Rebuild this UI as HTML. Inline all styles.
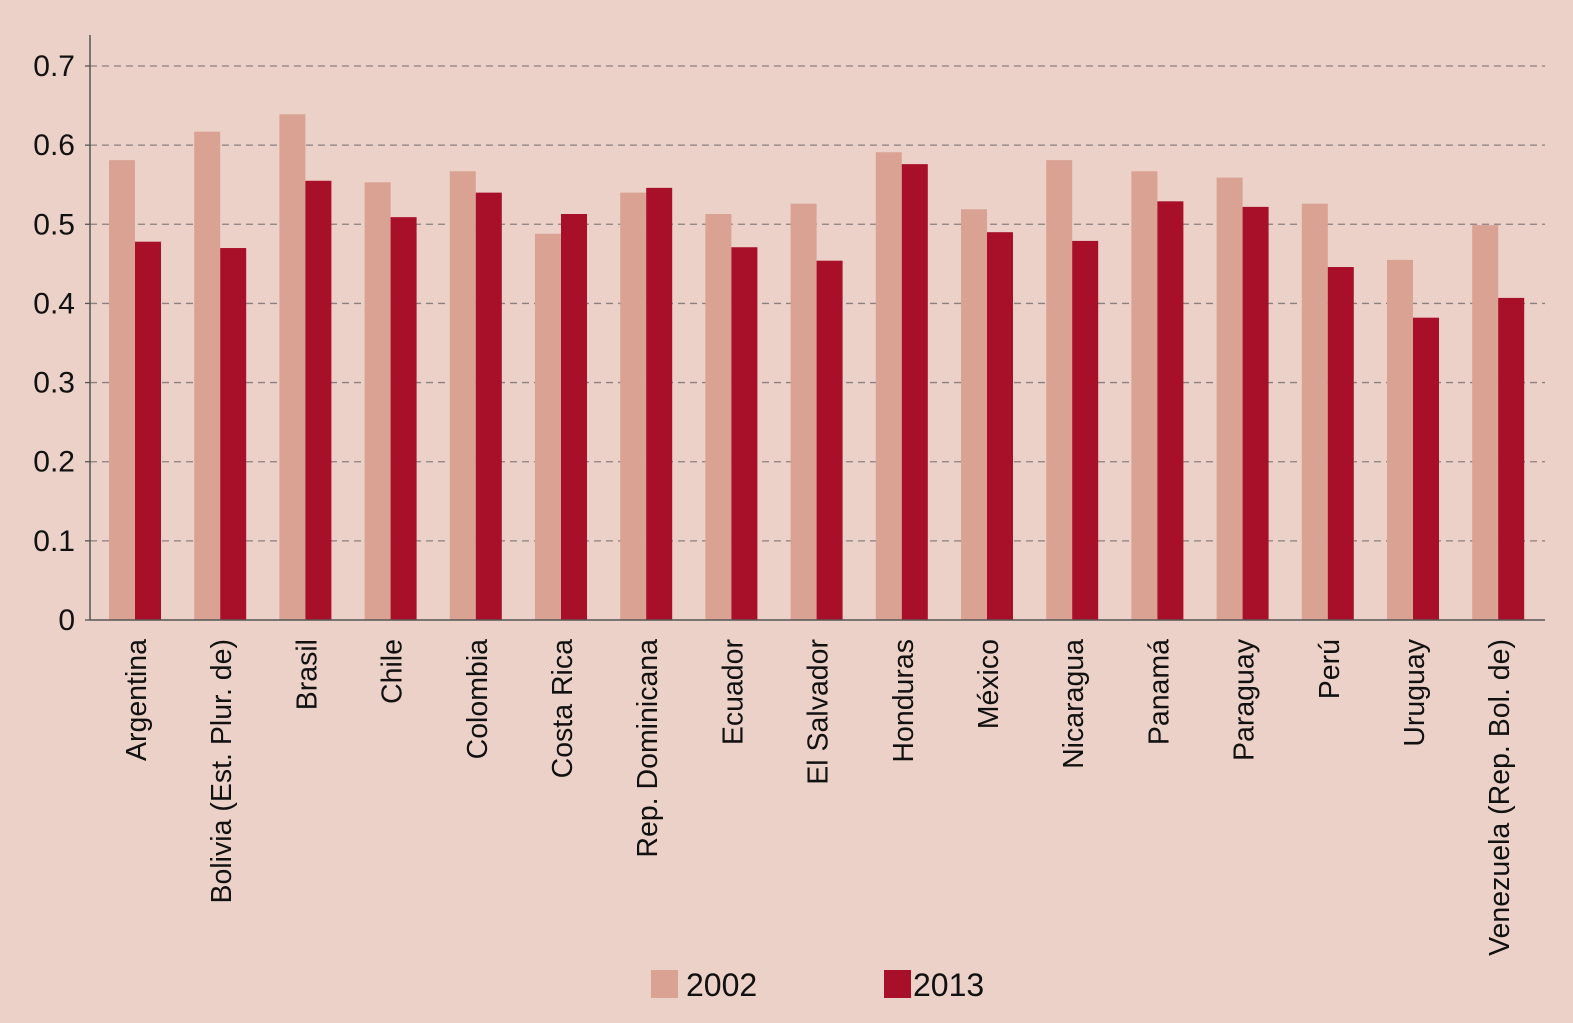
<!DOCTYPE html>
<html><head><meta charset="utf-8"><style>
html,body{margin:0;padding:0;background:#ecd1c8;}
svg{display:block;font-family:"Liberation Sans",Arial,sans-serif;}
</style></head><body>
<svg id="chart" width="1573" height="1023" viewBox="0 0 1573 1023">
<rect x="0" y="0" width="1573" height="1023" fill="#ecd1c8"/>
<g id="grid"></g><g id="bars"></g><g id="axes"></g><g id="labels"></g>
<g>
<rect x="651" y="970" width="27" height="28" fill="#d9a293"/>
<text x="686" y="996" font-size="32" fill="#111">2002</text>
<rect x="884" y="970" width="27" height="28" fill="#a8102a"/>
<text x="913" y="996" font-size="32" fill="#111">2013</text>
</g>
</svg>
<script>
const categories=["Argentina","Bolivia (Est. Plur. de)","Brasil","Chile","Colombia","Costa Rica","Rep. Dominicana","Ecuador","El Salvador","Honduras","México","Nicaragua","Panamá","Paraguay","Perú","Uruguay","Venezuela (Rep. Bol. de)"];
const values2002=[0.581,0.617,0.639,0.553,0.567,0.488,0.540,0.513,0.526,0.591,0.519,0.581,0.567,0.559,0.526,0.455,0.499];
const values2013=[0.478,0.470,0.555,0.509,0.540,0.513,0.546,0.471,0.454,0.576,0.490,0.479,0.529,0.522,0.446,0.382,0.407];
const yTicks=[0,0.1,0.2,0.3,0.4,0.5,0.6,0.7];
const yTickLabels=["0","0.1","0.2","0.3","0.4","0.5","0.6","0.7"];
const NS="http://www.w3.org/2000/svg";
const x0=90,x1=1545,y0=620,yTop=66;
function y(v){return y0-(y0-yTop)*v/0.7;}
const step=85.2,firstX=109,bw=26;
function gx(i){return firstX+i*step;}
function mk(t,a,p){const e=document.createElementNS(NS,t);for(const k in a)e.setAttribute(k,a[k]);p.appendChild(e);return e;}
const grid=document.getElementById('grid'),bars=document.getElementById('bars'),axes=document.getElementById('axes'),labels=document.getElementById('labels');
yTicks.forEach((t,i)=>{
  if(t>0){const l=mk('line',{x1:x0,x2:x1,y1:y(t),y2:y(t),stroke:'#8a8080','stroke-width':1.3,'stroke-dasharray':'7,5'},grid);
  
  }
  const tk=mk('line',{x1:x0-5,x2:x0,y1:y(t),y2:y(t),stroke:'#555','stroke-width':1.3},axes);
  
  
  const tx=mk('text',{x:75,y:y(t)+10,'text-anchor':'end','font-size':30,fill:'#111'},labels);
  tx.textContent=yTickLabels[i];
  
  
});
categories.forEach((c,i)=>{
  const xa=gx(i);
  const b1=mk('rect',{x:xa,y:y(values2002[i]),width:bw,height:y0-y(values2002[i]),fill:'#d9a293'},bars);
  
  
  const b2=mk('rect',{x:xa+bw,y:y(values2013[i]),width:bw,height:y0-y(values2013[i]),fill:'#a8102a'},bars);
  
  
  const cx=xa+bw+11;
  const t=mk('text',{x:0,y:0,'text-anchor':'end','font-size':28.5,fill:'#111',transform:`translate(${cx},639) rotate(-90)`},labels);
  t.textContent=c;
  
  
});
const ya=mk('line',{x1:x0,x2:x0,y1:35,y2:y0,stroke:'#555','stroke-width':1.5},axes);


const xa=mk('line',{x1:x0,x2:x1,y1:y0,y2:y0,stroke:'#555','stroke-width':1.5},axes);


</script>
</body></html>
